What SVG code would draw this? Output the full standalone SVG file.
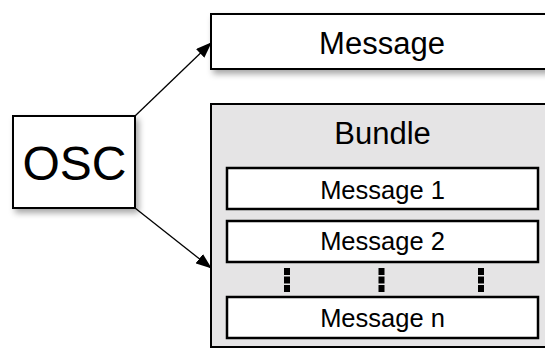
<svg xmlns="http://www.w3.org/2000/svg" width="545" height="349" viewBox="0 0 545 349">
  <defs>
    <filter id="shadow" x="-10%" y="-10%" width="130%" height="140%">
      <feDropShadow dx="3" dy="4" stdDeviation="3" flood-color="#000" flood-opacity="0.35"/>
    </filter>
    <marker id="arrow" viewBox="0 0 16 12" refX="15" refY="6" markerWidth="16" markerHeight="12" markerUnits="userSpaceOnUse" orient="auto">
      <path d="M0,0 L16,6 L0,12 Z" fill="#000"/>
    </marker>
  </defs>
  <style>
    .box { fill: #fff; stroke: #000; stroke-width: 2; }
    .group { fill: #e5e4e5; stroke: #000; stroke-width: 2; }
    .item { fill: #fff; stroke: #000; stroke-width: 2.5; }
    .label { font-family: "Liberation Sans", Arial, sans-serif; fill: #000; text-anchor: middle; }
    .edge { stroke: #000; stroke-width: 1.3; fill: none; marker-end: url(#arrow); }
    .dot { fill: #000; }
  </style>
  <rect width="545" height="349" fill="#fff"/>

  <g id="connectors">
    <line class="edge" x1="135" y1="116" x2="211" y2="43"/>
    <line class="edge" x1="135" y1="208" x2="211" y2="268"/>
  </g>

  <g id="osc">
    <rect class="box" x="13" y="116" width="122" height="92" filter="url(#shadow)"/>
    <text class="label" x="74.5" y="179.5" font-size="48">OSC</text>
  </g>

  <g id="message">
    <rect class="box" x="211" y="14" width="340" height="55" filter="url(#shadow)"/>
    <text class="label" x="382" y="53.5" font-size="31">Message</text>
  </g>

  <g id="bundle">
    <rect class="group" x="211" y="104" width="340" height="243"/>
    <text class="label" x="382.5" y="143.5" font-size="31">Bundle</text>

    <g id="message-1">
      <rect class="item" x="227" y="168" width="311" height="41"/>
      <text class="label" x="382.5" y="199" font-size="25.5">Message 1</text>
    </g>
    <g id="message-2">
      <rect class="item" x="227" y="221" width="311" height="41"/>
      <text class="label" x="382.5" y="250" font-size="25.5">Message 2</text>
    </g>

    <g id="ellipsis">
      <rect class="dot" x="284" y="268" width="6" height="7"/>
      <rect class="dot" x="284" y="276.5" width="6" height="7"/>
      <rect class="dot" x="284" y="285" width="6" height="7"/>
      <rect class="dot" x="378.5" y="268" width="6" height="7"/>
      <rect class="dot" x="378.5" y="276.5" width="6" height="7"/>
      <rect class="dot" x="378.5" y="285" width="6" height="7"/>
      <rect class="dot" x="478" y="268" width="6" height="7"/>
      <rect class="dot" x="478" y="276.5" width="6" height="7"/>
      <rect class="dot" x="478" y="285" width="6" height="7"/>
    </g>

    <g id="message-n">
      <rect class="item" x="227" y="297" width="311" height="41"/>
      <text class="label" x="382.5" y="327" font-size="25.5">Message n</text>
    </g>
  </g>
</svg>
